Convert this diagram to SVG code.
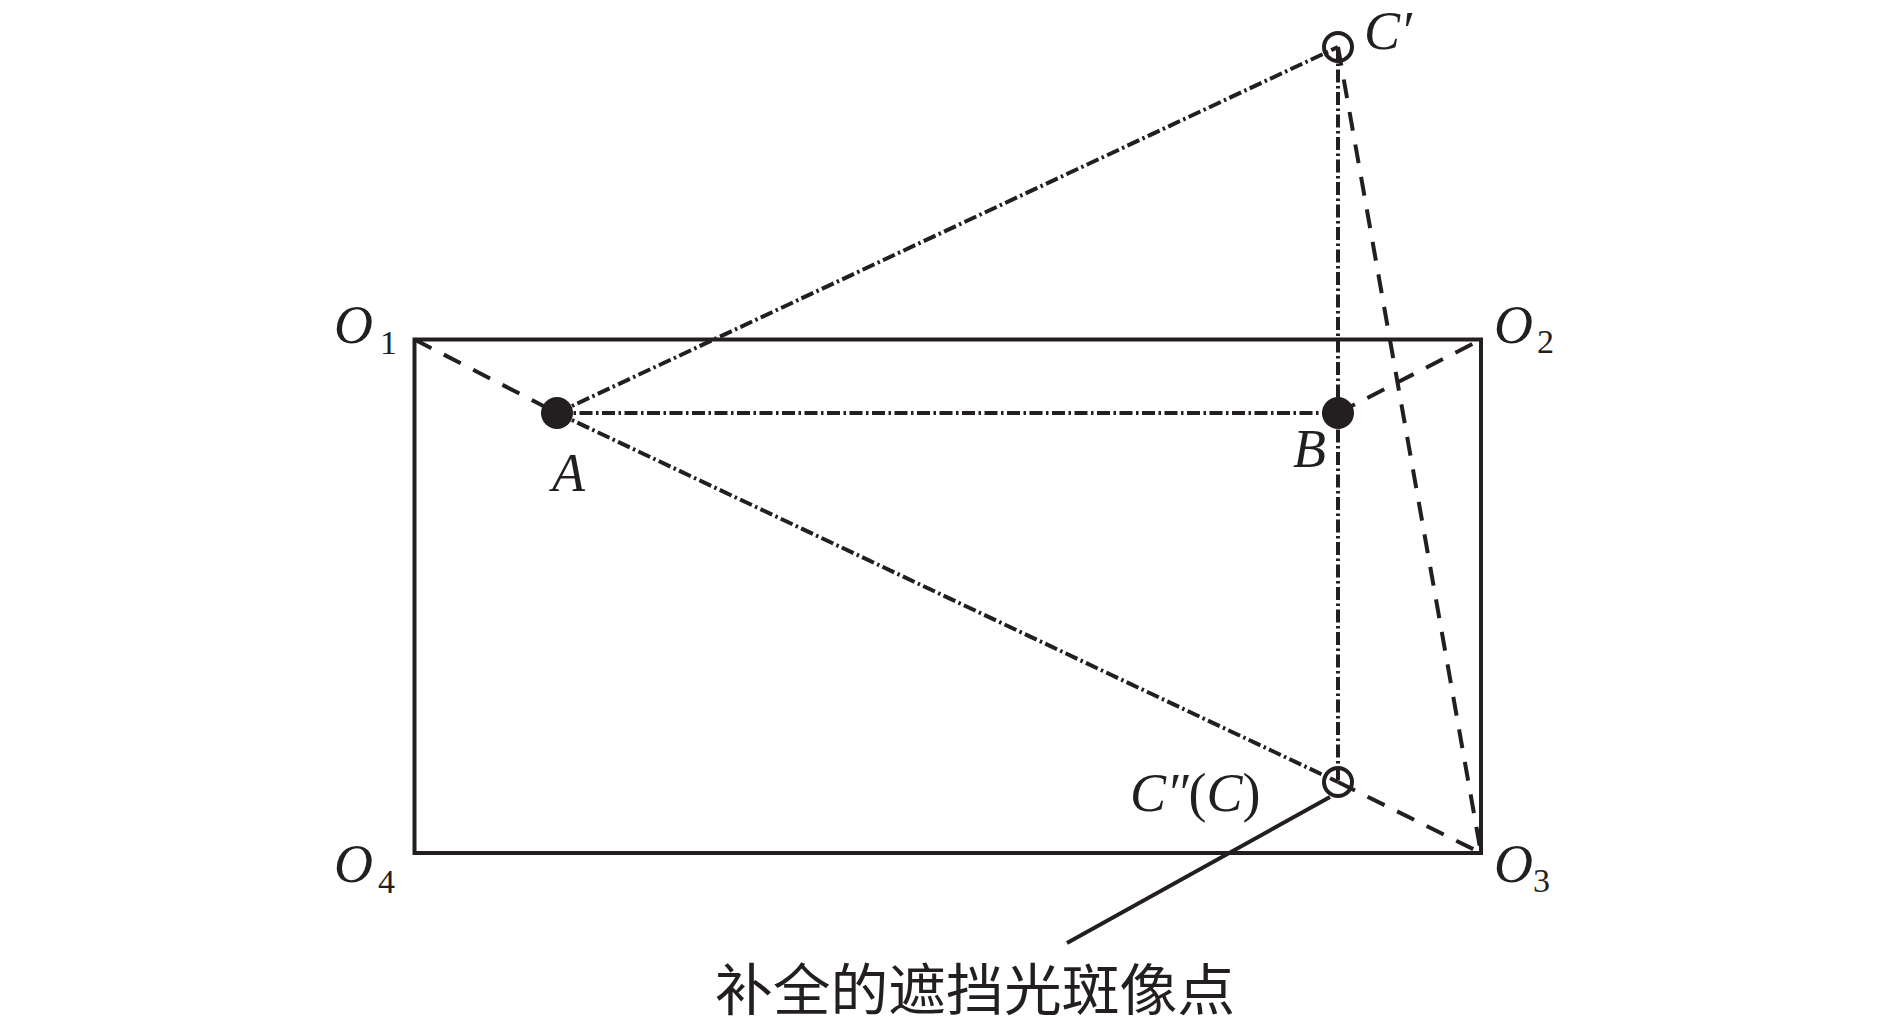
<svg xmlns="http://www.w3.org/2000/svg" width="1890" height="1027" viewBox="0 0 1890 1027">
<style>
.solid{fill:none;stroke:#231f20;stroke-width:4}
.dash{fill:none;stroke:#231f20;stroke-width:4;stroke-dasharray:19 14}
.dd{fill:none;stroke:#231f20;stroke-width:4;stroke-dasharray:13 3.5 2.5 3.5}
.lbl{font-style:italic;font-size:54px;fill:#231f20}
.sub{font-size:34px;fill:#231f20}
.cn{font-size:56px;fill:#231f20}
</style>
<rect fill="#fff" x="0" y="0" width="1890" height="1027"/>
<g id="frame">
<rect class="solid" x="414.5" y="339.5" width="1066.5" height="513.5"/>
</g>
<g id="connectors">
<line class="dash" x1="414.5" y1="339.5" x2="557" y2="413"/>
<line class="dash" x1="1338" y1="413" x2="1481" y2="339.5"/>
<line class="dash" x1="1338" y1="47" x2="1481" y2="853"/>
<line class="dash" x1="1338" y1="782" x2="1481" y2="853"/>
<line class="dd" x1="557" y1="413" x2="1338" y2="47"/>
<line class="dd" x1="557" y1="413" x2="1338" y2="413"/>
<line class="dd" x1="557" y1="413" x2="1338" y2="782"/>
<line class="dd" x1="1338" y1="47" x2="1338" y2="782"/>
<line class="solid" x1="1330" y1="797" x2="1067" y2="943"/>
</g>
<g font-family="Liberation Serif, Times New Roman, serif">
<g id="A"><circle cx="557" cy="413" r="16" fill="#231f20"/><text class="lbl" x="552" y="491">A</text></g>
<g id="B"><circle cx="1338" cy="413" r="16" fill="#231f20"/><text class="lbl" x="1293" y="467">B</text></g>
<g id="Cprime"><circle cx="1338" cy="47" r="14" fill="none" stroke="#231f20" stroke-width="4"/><text class="lbl" x="1364" y="49">C′</text></g>
<g id="Cdouble"><circle cx="1338" cy="782" r="14" fill="none" stroke="#231f20" stroke-width="4"/><text class="lbl" x="1130" y="811">C″<tspan font-style="normal">(</tspan>C<tspan font-style="normal">)</tspan></text></g>
<g id="O1"><text class="lbl" x="334" y="343">O</text><text class="sub" x="380" y="354">1</text></g>
<g id="O2"><text class="lbl" x="1494" y="343">O</text><text class="sub" x="1537" y="353">2</text></g>
<g id="O3"><text class="lbl" x="1494" y="882">O</text><text class="sub" x="1533" y="892">3</text></g>
<g id="O4"><text class="lbl" x="334" y="882">O</text><text class="sub" x="378" y="893">4</text></g>
</g>
<g id="caption"><text class="cn" font-family="Noto Sans CJK SC, Noto Sans CJK JP, sans-serif" x="715" y="1010" textLength="520" lengthAdjust="spacingAndGlyphs">补全的遮挡光斑像点</text></g>
</svg>
